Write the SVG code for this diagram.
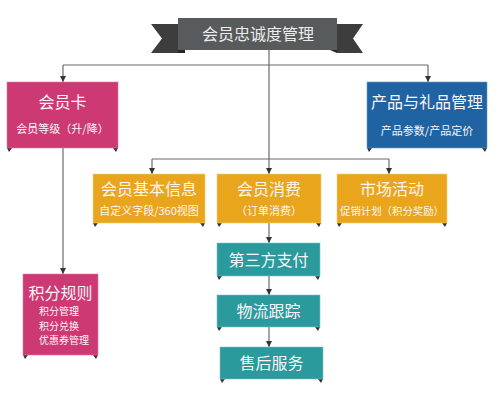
<svg xmlns="http://www.w3.org/2000/svg" width="500" height="411" viewBox="0 0 500 411">
<defs>
<style>
.t{font-family:"Noto Sans CJK SC","Noto Sans",sans-serif;fill:#fbf4f6;text-anchor:middle}
.h{font-size:16px}
.s{font-size:11px}
.s2{font-size:10px;text-anchor:start}
.ln{stroke:#6b6b6b;stroke-width:1.2;fill:none}
.fold{fill:#333}
.pink{fill:#cd3a73;stroke:#e07aa0;stroke-width:0.6}
.blue{fill:#1f63a3;stroke:#6c9cc9;stroke-width:0.6}
.orange{fill:#e9a61d;stroke:#f4cc78;stroke-width:0.6}
.teal{fill:#2a9a9d;stroke:#7cc4c5;stroke-width:0.6}
</style>
<marker id="ar" viewBox="0 0 6 6" refX="6" refY="3" markerWidth="5" markerHeight="5" orient="auto">
<path d="M0,0 L6,3 L0,6 z" fill="#333"/>
</marker>
</defs>
<rect width="500" height="411" fill="#fff"/>

<g id="connectors">
<path class="ln" d="M63,65 H428"/>
<path class="ln" d="M63,65 V82" marker-end="url(#ar)"/>
<path class="ln" d="M428,65 V82" marker-end="url(#ar)"/>
<path class="ln" d="M269,50 V174" marker-end="url(#ar)"/>
<path class="ln" d="M152,159 H389"/>
<path class="ln" d="M152,159 V174" marker-end="url(#ar)"/>
<path class="ln" d="M389,159 V174" marker-end="url(#ar)"/>
<path class="ln" d="M63,148 V274" marker-end="url(#ar)"/>
<path class="ln" d="M269,223 V243" marker-end="url(#ar)"/>
<path class="ln" d="M269,276 V295" marker-end="url(#ar)"/>
<path class="ln" d="M269,327 V347" marker-end="url(#ar)"/>
</g>

<g id="title">
<polygon points="151,24 178,24 178,53 151,53 162,38.5" fill="#3d3d3d"/>
<polygon points="337,24 363,24 353,38.5 363,53 337,53" fill="#3d3d3d"/>
<polygon points="178,50 185,50 185,53 178,53" fill="#262626"/>
<polygon points="330,50 337,50 337,53" fill="#262626"/>
<rect x="178" y="18" width="159" height="32" fill="#575b5c"/>
<text class="t" x="258" y="40" style="font-size:16px;fill:#ececec">会员忠诚度管理</text>
</g>

<g id="n-huiyuanka">
<polygon class="fold" points="7,148 12,148 9,152"/>
<polygon class="fold" points="113,148 118,148 116,152"/>
<rect class="pink" x="7" y="82" width="111" height="66"/>
<text class="t h" x="62.5" y="108">会员卡</text>
<text class="t s" x="62.5" y="133">会员等级（升/降）</text>
</g>

<g id="n-chanpin">
<polygon class="fold" points="367,148 372,148 369,152"/>
<polygon class="fold" points="482,148 487,148 485,152"/>
<rect class="blue" x="367" y="82" width="120" height="66"/>
<text class="t h" x="427" y="108">产品与礼品管理</text>
<text class="t s" x="427" y="135">产品参数/产品定价</text>
</g>

<g id="n-jiben">
<polygon class="fold" points="93,223 98,223 95,227"/>
<polygon class="fold" points="200,223 205,223 203,227"/>
<rect class="orange" x="93" y="174" width="112" height="49"/>
<text class="t h" x="149" y="195">会员基本信息</text>
<text class="t s" x="149" y="215">自定义字段/360视图</text>
</g>

<g id="n-xiaofei">
<polygon class="fold" points="217,223 222,223 219,227"/>
<polygon class="fold" points="316,223 321,223 319,227"/>
<rect class="orange" x="217" y="174" width="104" height="49"/>
<text class="t h" x="269" y="195">会员消费</text>
<text class="t s" x="269" y="215">（订单消费）</text>
</g>

<g id="n-shichang">
<polygon class="fold" points="337,223 342,223 339,227"/>
<polygon class="fold" points="442,223 447,223 445,227"/>
<rect class="orange" x="337" y="174" width="110" height="49"/>
<text class="t h" x="392" y="195">市场活动</text>
<text class="t s" x="392" y="215" style="font-size:10.4px">促销计划（积分奖励）</text>
</g>

<g id="n-jifen">
<polygon class="fold" points="23,355 28,355 25,359"/>
<polygon class="fold" points="93,355 98,355 96,359"/>
<rect class="pink" x="23" y="274" width="75" height="81"/>
<text class="t h" x="60.5" y="299">积分规则</text>
<text class="t s2" x="39" y="315">积分管理</text>
<text class="t s2" x="39" y="329.5">积分兑换</text>
<text class="t s2" x="39" y="344">优惠券管理</text>
</g>

<g id="n-zhifu">
<polygon class="fold" points="217,276 222,276 219,280"/>
<polygon class="fold" points="315,276 320,276 318,280"/>
<rect class="teal" x="217" y="243" width="103" height="33"/>
<text class="t h" x="268.5" y="265.5">第三方支付</text>
</g>

<g id="n-wuliu">
<polygon class="fold" points="217,327 222,327 219,331"/>
<polygon class="fold" points="315,327 320,327 318,331"/>
<rect class="teal" x="217" y="295" width="103" height="32"/>
<text class="t h" x="268.5" y="317">物流跟踪</text>
</g>

<g id="n-shouhou">
<polygon class="fold" points="220,379 225,379 222,383"/>
<polygon class="fold" points="318,379 323,379 321,383"/>
<rect class="teal" x="220" y="347" width="103" height="32"/>
<text class="t h" x="271.5" y="369">售后服务</text>
</g>
</svg>
